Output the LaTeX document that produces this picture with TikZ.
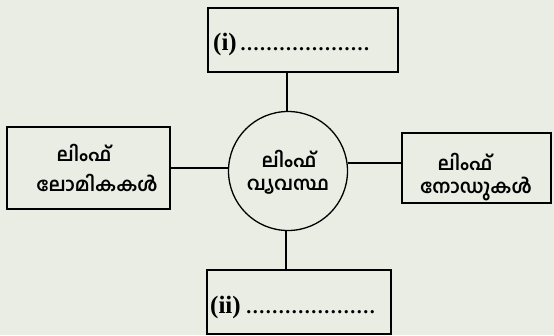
\documentclass[tikz,border=0pt]{standalone}
\usepackage{fontspec}
\newfontfamily\mal[Script=Malayalam]{Hind Kochi}
\setmainfont{Liberation Serif}
\definecolor{paper}{RGB}{234,237,228}
\newcommand{\onedot}{\makebox[6.5pt]{\fontsize{20}{20}\selectfont.}}
\newcommand{\fivedots}{\onedot\onedot\onedot\onedot\onedot}
\newcommand{\dotrow}{\fivedots\fivedots\fivedots\fivedots}
\begin{document}
\begin{tikzpicture}[x=1pt,y=-1pt,
  box/.style={draw=black,line width=1.6pt},
  link/.style={draw=black,line width=1.3pt},
  mtxt/.style={font=\mal\fontsize{19}{19}\selectfont\bfseries,inner sep=0pt,anchor=center},
  ltxt/.style={font=\fontsize{25}{25}\selectfont\bfseries,inner sep=0pt,anchor=base west}]
\fill[paper] (0,0) rectangle (554,335);
\useasboundingbox (0,0) rectangle (554,335);
% boxes
\node[box,minimum width=190pt,minimum height=64pt,inner sep=0pt] (top) at (303,40) {};
\node[box,minimum width=184pt,minimum height=64pt,inner sep=0pt] (bot) at (299,302) {};
\node[box,minimum width=163pt,minimum height=82pt,inner sep=0pt] (left) at (88.5,168) {};
\node[box,minimum width=149pt,minimum height=70pt,inner sep=0pt] (right) at (476.5,168) {};
\node[draw=black,line width=1.3pt,circle,minimum size=119pt,inner sep=0pt] (sys) at (288,171) {};
% connectors
\coordinate (tc) at (287,72);
\coordinate (bc) at (286,270);
\draw[link] (tc) -- (tc |- sys.north);
\draw[link] (sys.south -| bc) -- (bc);
\draw[link] (left.east |- 0,168) -- (sys.west |- 0,168);
\draw[link] (sys.east |- 0,163) -- (right.west |- 0,163);
% texts
\node[ltxt] (ti) at (213,50) {(i)\hspace{3pt}\dotrow};
\node[ltxt] (tii) at (210,313) {(ii)\hspace{5pt}\dotrow};
\node[mtxt] (l1) at (84,153) {ലിംഫ്};
\node[mtxt] (l2) at (97,183) {ലോമികകൾ};
\node[mtxt] (c1) at (289,159) {ലിംഫ്};
\node[mtxt] (c2) at (288,187) {വ്യവസ്ഥ};
\node[mtxt] (r1) at (465,162) {ലിംഫ്};
\node[mtxt] (r2) at (476,189) {നോഡുകൾ};
\end{tikzpicture}
\end{document}
